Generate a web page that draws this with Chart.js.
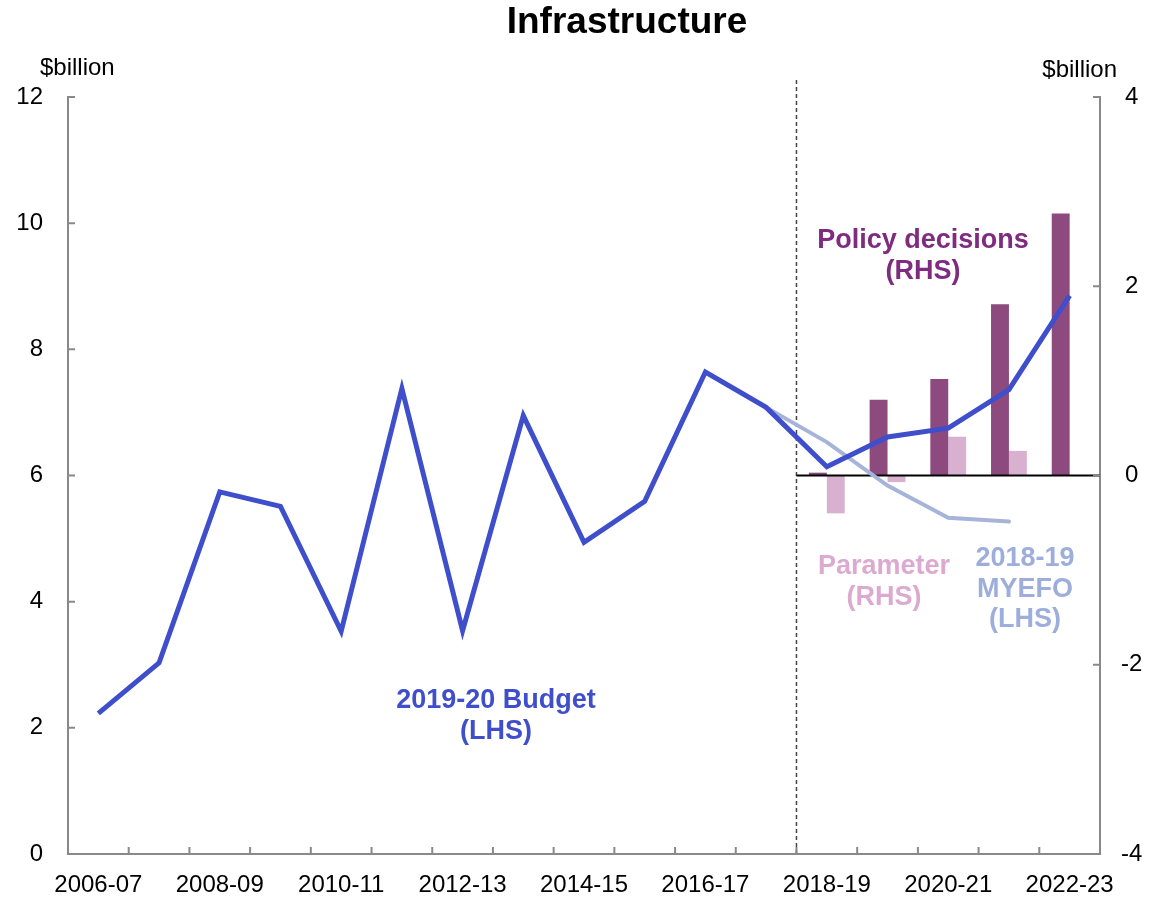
<!DOCTYPE html>
<html>
<head>
<meta charset="utf-8">
<title>Infrastructure</title>
<script src="https://cdn.jsdelivr.net/npm/chart.js@4.4.1/dist/chart.umd.min.js"></script>
<style>
  body { margin: 0; background: #fff; }
  #wrap { width: 1160px; height: 899px; position: relative; }
</style>
</head>
<body>
<div id="wrap"><canvas id="myChart"></canvas></div>
<script>
// financial years on the x axis
var anos = ['2006-07', '2007-08', '2008-09', '2009-10', '2010-11', '2011-12', '2012-13',
  '2013-14', '2014-15', '2015-16', '2016-17', '2017-18', '2018-19', '2019-20',
  '2020-21', '2021-22', '2022-23'];

// $billion, left axis
var budget = [2.23, 3.03, 5.74, 5.51, 3.53, 7.38, 3.54, 6.95, 4.94, 5.59, 7.64, 7.08,
  6.14, 6.61, 6.75, 7.36, 8.85];
var myefo = [null, null, null, null, null, null, null, null, null, null, null, 7.08,
  6.53, 5.84, 5.33, 5.27, null];

// $billion, right axis
var policy = [null, null, null, null, null, null, null, null, null, null, null, null,
  0.03, 0.80, 1.02, 1.81, 2.77];
var parameter = [null, null, null, null, null, null, null, null, null, null, null, null,
  -0.40, -0.07, 0.41, 0.26, null];

var leftTicks = [0, 2, 4, 6, 8, 10, 12];
var rightTicks = [-4, -2, 0, 2, 4];

var FONT = '"Liberation Sans", Arial, sans-serif';

// series labels written on the chart
var rotulos = [
  { linhas: ['Policy decisions', '(RHS)'], x: 923, y: 241, cor: '#7E2B80' },
  { linhas: ['Parameter', '(RHS)'], x: 884, y: 567, cor: '#DCAAD0' },
  { linhas: ['2018-19', 'MYEFO', '(LHS)'], x: 1025, y: 559, cor: '#9DAEDC' },
  { linhas: ['2019-20 Budget', '(LHS)'], x: 496, y: 701, cor: '#3F4FCB' }
];

var extras = {
  id: 'extras',
  beforeDatasetsDraw: function (chart) {
    var ctx = chart.ctx, a = chart.chartArea, x = chart.scales.x;
    var corte = (x.getPixelForValue(11) + x.getPixelForValue(12)) / 2;
    ctx.save();
    ctx.strokeStyle = '#444';
    ctx.lineWidth = 1.5;
    ctx.setLineDash([4, 3]);
    ctx.beginPath();
    ctx.moveTo(corte, a.top - 17);
    ctx.lineTo(corte, a.bottom);
    ctx.stroke();
    ctx.restore();
  },
  beforeDatasetDraw: function (chart, args) {
    // zero line for the RHS bars, under the lines
    if (args.index !== 1) return;
    var ctx = chart.ctx, a = chart.chartArea, x = chart.scales.x, y1 = chart.scales.y1;
    var corte = (x.getPixelForValue(11) + x.getPixelForValue(12)) / 2;
    var zero = y1.getPixelForValue(0);
    ctx.save();
    ctx.strokeStyle = '#000';
    ctx.lineWidth = 2;
    ctx.beginPath();
    ctx.moveTo(corte, zero);
    ctx.lineTo(a.right, zero);
    ctx.stroke();
    ctx.restore();
  },
  afterDraw: function (chart) {
    var ctx = chart.ctx, a = chart.chartArea;
    var x = chart.scales.x, y = chart.scales.y, y1 = chart.scales.y1;
    ctx.save();
    // inward tick marks
    ctx.strokeStyle = '#898989';
    ctx.lineWidth = 2;
    ctx.beginPath();
    leftTicks.forEach(function (v) {
      var py = y.getPixelForValue(v);
      ctx.moveTo(a.left, py); ctx.lineTo(a.left + 7, py);
    });
    rightTicks.forEach(function (v) {
      var py = y1.getPixelForValue(v);
      ctx.moveTo(a.right, py); ctx.lineTo(a.right - 7, py);
    });
    for (var i = 0; i < anos.length - 1; i++) {
      var px = (x.getPixelForValue(i) + x.getPixelForValue(i + 1)) / 2;
      ctx.moveTo(px, a.bottom); ctx.lineTo(px, a.bottom - 7);
    }
    ctx.stroke();

    // title
    ctx.fillStyle = '#000';
    ctx.textBaseline = 'middle';
    ctx.textAlign = 'center';
    ctx.font = 'bold 37px ' + FONT;
    ctx.fillText('Infrastructure', 627, 23);

    // unit labels
    ctx.font = '24px ' + FONT;
    ctx.textAlign = 'left';
    ctx.fillText('$billion', 40, 68);
    ctx.textAlign = 'right';
    ctx.fillText('$billion', 1117, 70);

    // series labels
    ctx.font = 'bold 27px ' + FONT;
    ctx.textAlign = 'center';
    rotulos.forEach(function (r) {
      ctx.fillStyle = r.cor;
      r.linhas.forEach(function (t, k) {
        ctx.fillText(t, r.x, r.y + k * 30.5);
      });
    });
    ctx.restore();
  }
};

var ctx = document.getElementById('myChart').getContext('2d');
var myChart = new Chart(ctx, {
  type: 'bar',
  plugins: [extras],
  data: {
    labels: anos,
    datasets: [
      {
        type: 'line', label: '2019-20 Budget', data: budget, yAxisID: 'y',
        borderColor: '#3F4FCB', borderWidth: 5, pointRadius: 0, tension: 0,
        borderJoinStyle: 'miter', order: 0
      },
      {
        type: 'line', label: '2018-19 MYEFO', data: myefo, yAxisID: 'y',
        borderColor: '#A7B4DA', borderWidth: 4, pointRadius: 0, tension: 0,
        borderCapStyle: 'round', order: 1
      },
      {
        label: 'Policy decisions', data: policy, yAxisID: 'y1',
        backgroundColor: '#8C4A7E', categoryPercentage: 0.59, barPercentage: 1, order: 2
      },
      {
        label: 'Parameter', data: parameter, yAxisID: 'y1',
        backgroundColor: '#D9B1D0', categoryPercentage: 0.59, barPercentage: 1, order: 3
      }
    ]
  },
  options: {
    responsive: true,
    maintainAspectRatio: false,
    animation: false,
    layout: { padding: { top: 97, left: 0, right: 0, bottom: 0 } },
    plugins: {
      legend: { display: false },
      tooltip: { enabled: false },
      title: { display: false }
    },
    scales: {
      x: {
        grid: { display: false, drawTicks: false },
        border: { display: true, color: '#898989', width: 2 },
        ticks: {
          autoSkip: false, maxRotation: 0, minRotation: 0, padding: 17,
          color: '#000', font: { family: FONT, size: 24 },
          callback: function (v, i) { return i % 2 === 0 ? anos[i] : ''; }
        },
        afterFit: function (s) { s.height = 45; }
      },
      y: {
        position: 'left', min: 0, max: 12,
        grid: { display: false, drawTicks: false },
        border: { display: true, color: '#898989', width: 2 },
        ticks: { stepSize: 2, padding: 25, color: '#000', font: { family: FONT, size: 24 } },
        afterFit: function (s) { s.width = 68; }
      },
      y1: {
        position: 'right', min: -4, max: 4,
        grid: { display: false, drawTicks: false },
        border: { display: true, color: '#898989', width: 2 },
        ticks: {
          stepSize: 2, padding: 21, crossAlign: 'center',
          color: '#000', font: { family: FONT, size: 24 }
        },
        afterFit: function (s) { s.width = 60; }
      }
    }
  }
});
</script>
</body>
</html>
